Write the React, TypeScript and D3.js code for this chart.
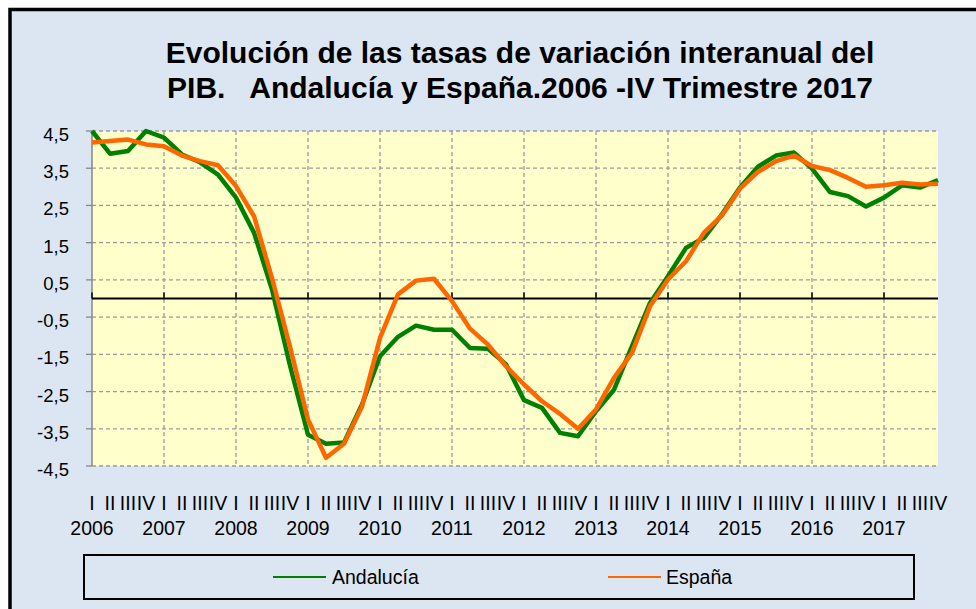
import React from "react";
import * as d3 from "d3";

const years = ["2006","2007","2008","2009","2010","2011","2012","2013","2014","2015","2016","2017"];
const quarters = ["I","II","III","IV"];
const yTicks = [4.5,3.5,2.5,1.5,0.5,-0.5,-1.5,-2.5,-3.5,-4.5];

const andalucia = [4.5,3.89,3.96,4.5,4.32,3.87,3.66,3.33,2.71,1.77,
  0.24,-1.8,-3.66,-3.9,-3.87,-2.85,-1.55,-1.03,-0.73,-0.84,
  -0.84,-1.33,-1.35,-1.77,-2.73,-2.94,-3.61,-3.7,-3.03,-2.45,
  -1.28,-0.12,0.6,1.36,1.63,2.26,2.98,3.54,3.84,3.92,
  3.49,2.86,2.75,2.47,2.71,3.04,2.98,3.18];
const espana = [4.19,4.23,4.27,4.14,4.09,3.84,3.69,3.58,3.02,2.21,
  0.55,-1.3,-3.25,-4.28,-3.9,-2.9,-1.06,0.11,0.48,0.53,
  -0.07,-0.81,-1.24,-1.82,-2.31,-2.76,-3.1,-3.5,-2.98,-2.13,
  -1.46,-0.21,0.51,1.0,1.77,2.23,2.95,3.4,3.69,3.84,
  3.56,3.45,3.24,3.0,3.04,3.11,3.06,3.08];

const FONT = "Arial, 'Liberation Sans', sans-serif";

export default function App() {
  const n = andalucia.length;
  const x = d3.scaleLinear().domain([0, n - 1]).range([92, 938]);
  const y = d3.scaleLinear().domain([-4.5, 4.5]).range([466, 131]);
  const line = d3.line<number>().x((_, i) => x(i)).y((d) => y(d));
  const idx = d3.range(n);
  const yearIdx = d3.range(0, n, 4);

  return (
    <svg width={976} height={609} style={{ position: "absolute", left: 0, top: 0 }} fontFamily={FONT}>
      <rect x={0} y={0} width={976} height={609} fill="#ffffff" />
      <rect x={10} y={9.5} width={1200} height={1200} fill="#dce6f2" stroke="#000" strokeWidth={3.5} />
      <text x={520} y={63} textAnchor="middle" fontSize={30} fontWeight="bold" fill="#000">Evolución de las tasas de variación interanual del</text>
      <text x={520} y={98} textAnchor="middle" fontSize={30} fontWeight="bold" fill="#000" style={{ whiteSpace: "pre" }}>{"PIB.   Andalucía y España.2006 -IV Trimestre 2017"}</text>

      <rect x={x(0)} y={y(4.5)} width={x(n - 1) - x(0)} height={y(-4.5) - y(4.5)} fill="#ffffcc" />
      {yTicks.map((t) => (
        <line key={"h" + t} x1={x(0)} x2={x(n - 1)} y1={y(t)} y2={y(t)} stroke="#9a9a9a" strokeWidth={1.3} strokeDasharray="4,3" />
      ))}
      {yearIdx.slice(1).map((i) => (
        <line key={"v" + i} x1={x(i)} x2={x(i)} y1={y(4.5)} y2={y(-4.5)} stroke="#9a9a9a" strokeWidth={1.3} strokeDasharray="4,3" />
      ))}
      <line x1={x(0)} x2={x(0)} y1={y(4.5)} y2={y(-4.5)} stroke="#868686" strokeWidth={1.5} />
      {yTicks.map((t) => (
        <g key={"yt" + t}>
          <line x1={x(0) - 6} x2={x(0)} y1={y(t)} y2={y(t)} stroke="#868686" strokeWidth={1.3} />
          <text x={69} y={y(t) + 10} textAnchor="end" fontSize={18.5} fill="#000">{String(t).replace(".", ",")}</text>
        </g>
      ))}
      <line x1={x(0)} x2={x(n - 1)} y1={y(0)} y2={y(0)} stroke="#000" strokeWidth={2} />
      {yearIdx.map((i) => (
        <line key={"xt" + i} x1={x(i)} x2={x(i)} y1={y(0)} y2={y(0) - 6} stroke="#000" strokeWidth={1.5} />
      ))}

      <path d={line(andalucia) || ""} fill="none" stroke="#008000" strokeWidth={4.5} strokeLinejoin="round" />
      <path d={line(espana) || ""} fill="none" stroke="#ff6600" strokeWidth={4.5} strokeLinejoin="round" />

      {idx.map((i) => (
        <text key={"q" + i} x={x(i)} y={510} textAnchor="middle" fontSize={19.5} fill="#000">{quarters[i % 4]}</text>
      ))}
      {yearIdx.map((i, k) => (
        <text key={"y" + i} x={x(i)} y={535} textAnchor="middle" fontSize={19.5} fill="#000">{years[k]}</text>
      ))}

      <rect x={84} y={555} width={830} height={44} fill="none" stroke="#000" strokeWidth={2} />
      <line x1={273} x2={326} y1={577} y2={577} stroke="#008000" strokeWidth={2} />
      <text x={332} y={584} fontSize={19.5} fill="#000">Andalucía</text>
      <line x1={608} x2={661} y1={577} y2={577} stroke="#ff6600" strokeWidth={2} />
      <text x={666} y={584} fontSize={19.5} fill="#000">España</text>
    </svg>
  );
}
